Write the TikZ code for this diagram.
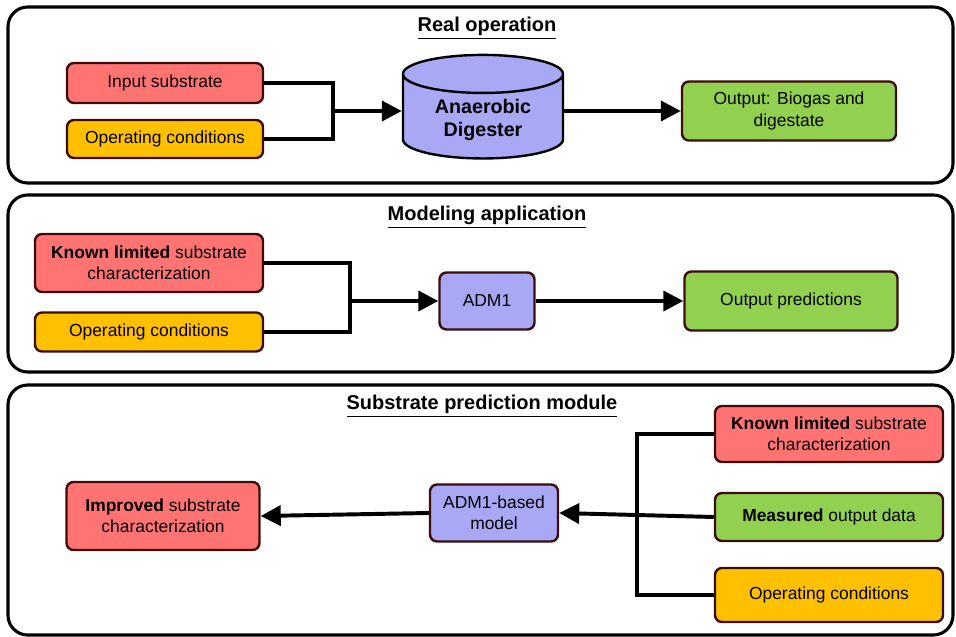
\documentclass[tikz,border=0pt]{standalone}
\usepackage{fontspec}
\setmainfont{Liberation Sans}
\usetikzlibrary{arrows.meta, shapes.geometric}

\definecolor{boxred}{HTML}{FF7373}
\definecolor{boxyellow}{HTML}{FFC000}
\definecolor{boxgreen}{HTML}{92D050}
\definecolor{boxblue}{HTML}{A8A8F4}
\definecolor{edge}{HTML}{3C0C0C}

\begin{document}
\begin{tikzpicture}[x=0.025cm, y=-0.025cm, >={Triangle[length=5mm, width=5mm]},
        box/.style={draw=edge, line width=1.7pt, rounded corners=5pt, align=center,
            font=\fontsize{12.4}{15}\selectfont, inner sep=2pt},
        panel/.style={draw, line width=2.2pt, rounded corners=14pt},
        title/.style={font=\fontsize{14.2}{17}\selectfont\bfseries},
        link/.style={line width=2.8pt, line join=miter}]
        \useasboundingbox (0,0) rectangle (956,637);

        % panels
        \draw[panel] (8,7) rectangle (953,183);
        \draw[panel] (8,195) rectangle (953,372);
        \draw[panel] (8,385) rectangle (953,635);
        \node[title] (t1) at (487,28) {\underline{Real operation}};
        \node[title] (t2) at (487,217) {\underline{Modeling application}};
        \node[title] (t3) at (482,406) {\underline{Substrate prediction module}};

        % real operation
        \node[box, fill=boxred, minimum width=4.9cm, minimum height=1cm] (in1) at (165,83) {Input substrate};
        \node[box, fill=boxyellow, minimum width=4.9cm, minimum height=0.95cm] (op1) at (165,139) {Operating conditions};
        \node[cylinder, shape border rotate=90, aspect=0.36, draw, line width=1.7pt, fill=boxblue,
            minimum width=4cm, minimum height=2.25cm, align=center,
            font=\fontsize{14}{17}\selectfont\bfseries] (dig) at (483,120) {Anaerobic\\Digester};
        \node[box, fill=boxgreen, minimum width=5.35cm, minimum height=1.475cm] (out1) at (789,111) {Output: Biogas and\\digestate};
        \coordinate (j1) at (333,111);
        \draw[link] (in1.east) -| (j1);
        \draw[link] (op1.east) -| (j1);
        \draw[link, ->] (j1) -- (j1 -| dig.west);
        \draw[link, ->] (dig.east |- out1.west) -- (out1.west);

        % modeling application
        \node[box, fill=boxred, minimum width=5.7cm, minimum height=1.45cm] (kn2) at (149,263) {\textbf{Known limited} substrate\\characterization};
        \node[box, fill=boxyellow, minimum width=5.7cm, minimum height=0.975cm] (op2) at (149,332) {Operating conditions};
        \node[box, fill=boxblue, minimum width=2.375cm, minimum height=1.425cm] (adm) at (487,301) {ADM1};
        \node[box, fill=boxgreen, minimum width=5.325cm, minimum height=1.475cm] (out2) at (791,301) {Output predictions};
        \coordinate (j2) at (350,301);
        \draw[link] (kn2.east) -| (j2);
        \draw[link] (op2.east) -| (j2);
        \draw[link, ->] (j2) -- (adm.west);
        \draw[link, ->] (adm.east) -- (out2.west);

        % substrate prediction module
        \node[box, fill=boxred, minimum width=4.825cm, minimum height=1.7cm] (imp) at (163,516) {\textbf{Improved} substrate\\characterization};
        \node[box, fill=boxblue, minimum width=3.2cm, minimum height=1.425cm] (mod) at (494,513) {ADM1-based\\model};
        \node[box, fill=boxred, minimum width=5.7cm, minimum height=1.4cm] (kn3) at (829,434) {\textbf{Known limited} substrate\\characterization};
        \node[box, fill=boxgreen, minimum width=5.7cm, minimum height=1.2cm] (meas) at (829,517) {\textbf{Measured} output data};
        \node[box, fill=boxyellow, minimum width=5.7cm, minimum height=1.35cm] (op3) at (829,595) {Operating conditions};
        \coordinate (j3) at (637,513);
        \draw[link] (kn3.west) -| (j3);
        \draw[link] (op3.west) -| (j3);
        \draw[link, ->] (meas.west) -- (mod.east);
        \draw[link, ->] (mod.west) -- (imp.east);
    \end{tikzpicture}
\end{document}
